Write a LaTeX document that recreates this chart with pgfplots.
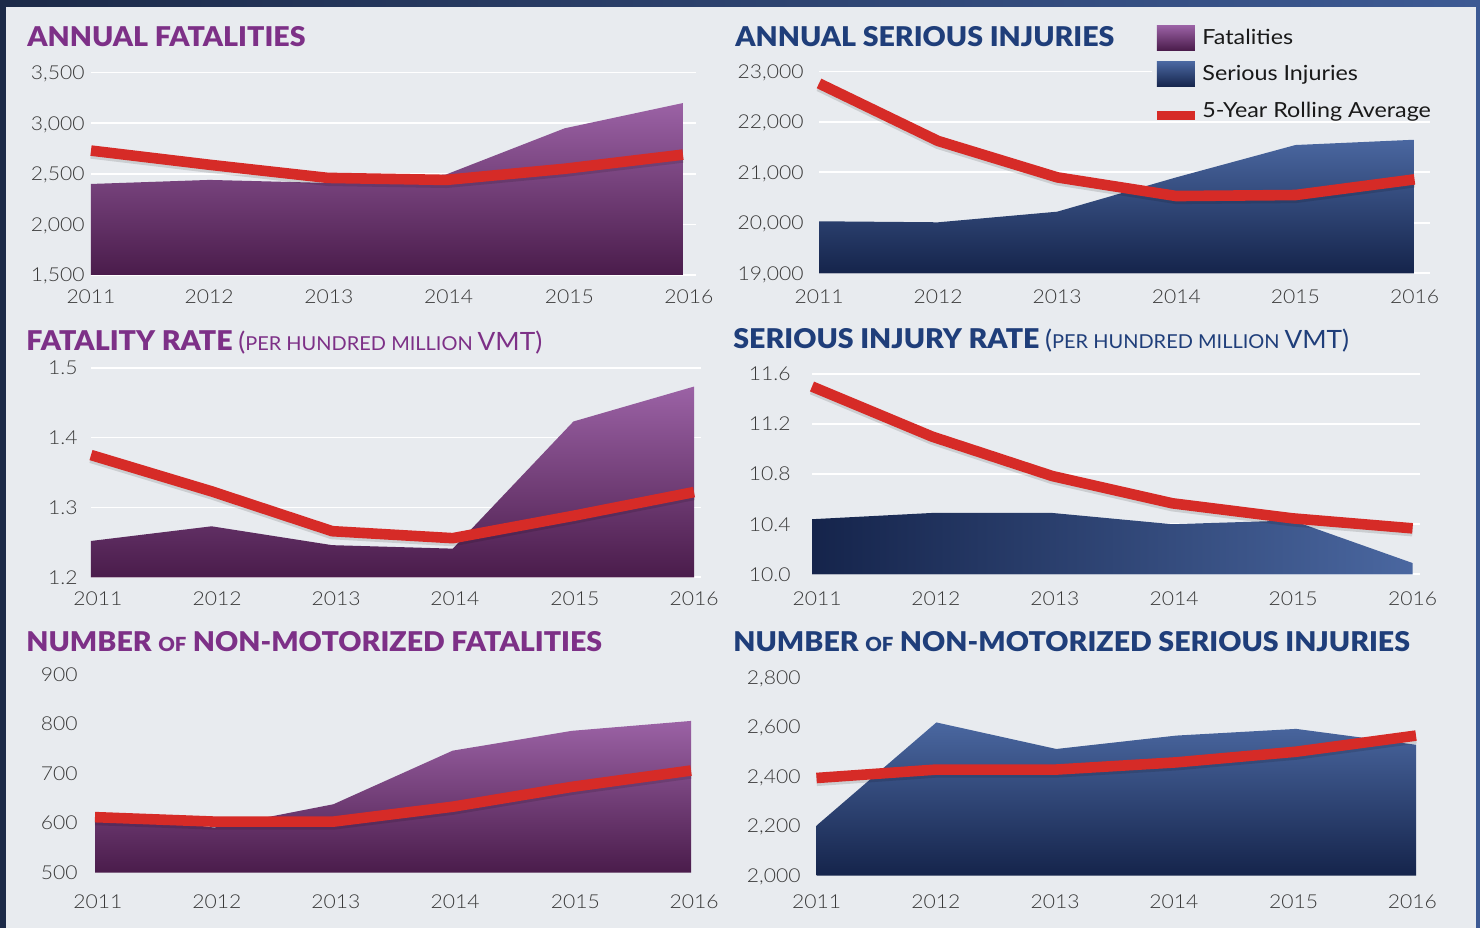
\documentclass[border=0pt]{standalone}
\usepackage{pgfplots}
\pgfplotsset{compat=1.18}
\usepackage{fontspec}
\setmainfont{Lato}[FakeStretch=1.12]
\newfontfamily\lightfont{Lato Light}[FakeStretch=1.1]
\newfontfamily\blackfont{Lato Black}[FakeStretch=1.05]
\newfontfamily\subfont{Lato}[FakeStretch=1.04]
\definecolor{bg}{HTML}{E8EBEF}
\definecolor{navy}{HTML}{1C2A48}
\definecolor{frameblue}{HTML}{3D5A94}
\definecolor{ptitle}{HTML}{7D3087}
\definecolor{btitle}{HTML}{1F3E7A}
\definecolor{redline}{HTML}{D62B27}
\definecolor{ptop}{HTML}{9B62A5}
\definecolor{pmid}{HTML}{7A3E83}
\definecolor{pbot}{HTML}{4A1C4B}
\definecolor{btop}{HTML}{4A67A0}
\definecolor{bmid}{HTML}{2C4A80}
\definecolor{bbot}{HTML}{15244B}
\definecolor{ticktext}{HTML}{3A3A3A}

\pgfplotsset{
  panel/.style={
    scale only axis, clip=false,
    scaled y ticks=false, scaled x ticks=false,
    axis line style={draw=none},
    tick style={draw=none},
    major tick length=0pt,
    grid style={white, line width=0.8pt},
    ticklabel style={font=\lightfont\fontsize{9.6}{10}\selectfont, text=ticktext, inner sep=0pt},
    xticklabels={2011,2012,2013,2014,2015,2016},
    yticklabel style={anchor=base east, yshift=-3.4pt},
    xticklabel style={anchor=base},
  },
  purplearea/.style={draw=none, top color=ptop, middle color=pmid, bottom color=pbot},
  bluearea/.style={draw=none, top color=btop, middle color=bmid, bottom color=bbot},
  shadowline/.style={black, opacity=0.12, line width=5.5pt, yshift=-1.3pt, line join=round, forget plot},
  redavg/.style={redline, line width=5.3pt, line join=round},
}
\newcommand\ttl[1]{{\blackfont\fontsize{13.6}{14}\selectfont #1}}
\newcommand\sub[1]{{\subfont\fontsize{9.6}{10}\selectfont #1}}
\newcommand\bigsub[1]{{\subfont\fontsize{12.6}{13}\selectfont #1}}

\begin{document}
\begin{tikzpicture}
% frame and background
\fill[navy] (0,0) rectangle (740pt,464pt);
\shade[left color=navy, right color=frameblue] (0,460.5pt) rectangle (740pt,464pt);
\fill[frameblue] (738pt,0) rectangle (740pt,460.5pt);
\fill[bg] (3pt,0) rectangle (738pt,460.5pt);

% titles
\node[anchor=base west, inner sep=0pt, text=ptitle] at (13.5pt,440.5pt) {\ttl{ANNUAL FATALITIES}};
\node[anchor=base west, inner sep=0pt, text=btitle] at (367.5pt,440.5pt) {\ttl{ANNUAL SERIOUS INJURIES}};
\node[anchor=base west, inner sep=0pt, text=ptitle] at (13pt,288.5pt) {\ttl{FATALITY RATE} \bigsub{(}\sub{PER HUNDRED MILLION }\bigsub{VMT)}};
\node[anchor=base west, inner sep=0pt, text=btitle] at (366.5pt,289.5pt) {\ttl{SERIOUS INJURY RATE} \bigsub{(}\sub{PER HUNDRED MILLION }\bigsub{VMT)}};
\node[anchor=base west, inner sep=0pt, text=ptitle] at (13pt,138pt) {\ttl{NUMBER {\fontsize{9.7}{10}\selectfont OF} NON-MOTORIZED FATALITIES}};
\node[anchor=base west, inner sep=0pt, text=btitle] at (366.5pt,138pt) {\ttl{NUMBER {\fontsize{9.7}{10}\selectfont OF} NON-MOTORIZED SERIOUS INJURIES}};

% Panel 1: Annual fatalities
\begin{axis}[panel, at={(45.5pt,326.5pt)}, anchor=south west,
  width=302.5pt, height=101.15pt,
  xmin=2011, xmax=2016.11, ymin=1500, ymax=3500,
  ytick={1500,2000,2500,3000,3500},
  yticklabels={{1,500},{2,000},{2,500},{3,000},{3,500}},
  ymajorgrids,
  xtick={2011,2011.997,2013.01,2014.02,2015.04,2016.05},
  yticklabel style={xshift=-3pt},
  xticklabel style={yshift=-14.5pt}]
\addplot[purplearea] coordinates {(2011,1500) (2011,2400) (2012,2440) (2013,2410) (2014,2494) (2015,2950) (2016,3200) (2016,1500)} -- cycle;
\addplot[shadowline] coordinates {(2011,2730) (2012,2590) (2013,2460) (2014,2440) (2015,2550) (2016,2690)};
\addplot[redavg] coordinates {(2011,2730) (2012,2590) (2013,2460) (2014,2440) (2015,2550) (2016,2690)};
\end{axis}

% Panel 2: Annual serious injuries
\begin{axis}[panel, at={(409.5pt,327.35pt)}, anchor=south west,
  width=305.5pt, height=101pt,
  xmin=2011, xmax=2016.13, ymin=19000, ymax=23000,
  ytick={19000,20000,21000,22000,23000},
  yticklabels={{19,000},{20,000},{21,000},{22,000},{23,000}},
  ymajorgrids,
  xtick={2011,2012,2013,2014,2015,2016},
  yticklabel style={xshift=-7.5pt},
  xticklabel style={yshift=-15.3pt},
  legend style={at={(0.545,1.229)}, anchor=north west, draw=none, fill=bg,
    font=\fontsize{10.4}{11}\selectfont, text=black!90, row sep=5.75pt, column sep=1.5pt,
    inner sep=0pt, nodes={inner sep=0pt, anchor=west}},
  legend cell align=left]
\addlegendimage{legend image code/.code={\shade[draw=none, top color=ptop, bottom color=pbot] (0pt,-6.25pt) rectangle (19pt,6.25pt);}}
\addlegendentry{Fatalities}
\addplot[bluearea, legend image code/.code={\shade[draw=none, top color=btop, bottom color=bbot] (0pt,-6.25pt) rectangle (19pt,6.25pt);}] coordinates {(2011,19000) (2011,20030) (2012,20010) (2013,20220) (2014,20900) (2015,21540) (2016,21645) (2016,19000)} -- cycle;
\addlegendentry{Serious Injuries}
\addplot[shadowline] coordinates {(2011,22760) (2012,21620) (2013,20900) (2014,20530) (2015,20550) (2016,20860)};
\addplot[redavg, legend image code/.code={\path[draw=none, fill=none] (0pt,-4.75pt) rectangle (19pt,6.25pt); \draw[redline, line width=4.5pt, line cap=butt] (0pt,-2.5pt) -- (19pt,-2.5pt);}] coordinates {(2011,22760) (2012,21620) (2013,20900) (2014,20530) (2015,20550) (2016,20860)};
\addlegendentry{5-Year Rolling Average}
\end{axis}

% Panel 3: Fatality rate
\begin{axis}[panel, at={(45.5pt,175.35pt)}, anchor=south west,
  width=305pt, height=104.8pt,
  xmin=2011, xmax=2016.058, ymin=1.2, ymax=1.5,
  ytick={1.2,1.3,1.4,1.5},
  yticklabels={1.2,1.3,1.4,1.5},
  ymajorgrids,
  xtick={2011.058,2012.045,2013.032,2014.018,2015.013,2016.0},
  yticklabel style={xshift=-6.5pt},
  xticklabel style={yshift=-14.3pt}]
\addplot[purplearea] coordinates {(2011,1.2) (2011,1.252) (2012,1.273) (2013,1.246) (2014,1.241) (2015,1.423) (2016,1.473) (2016,1.2)} -- cycle;
\addplot[shadowline] coordinates {(2011,1.375) (2012,1.323) (2013,1.266) (2014,1.256) (2015,1.288) (2016,1.322)};
\addplot[redavg] coordinates {(2011,1.375) (2012,1.323) (2013,1.266) (2014,1.256) (2015,1.288) (2016,1.322)};
\end{axis}

% Panel 4: Serious injury rate
\begin{axis}[panel, at={(406pt,176.85pt)}, anchor=south west,
  width=304pt, height=100.15pt,
  xmin=2011, xmax=2016.062, ymin=10.0, ymax=11.6,
  ytick={10.0,10.4,10.8,11.2,11.6},
  yticklabels={10.0,10.4,10.8,11.2,11.6},
  ymajorgrids,
  xtick={2011.042,2012.032,2013.023,2014.014,2015.005,2016.0},
  yticklabel style={xshift=-10.5pt},
  xticklabel style={yshift=-15.8pt}]
\addplot[draw=none, left color=bbot, middle color=bmid, right color=btop] coordinates {(2011,10.0) (2011,10.44) (2012,10.49) (2013,10.49) (2014,10.40) (2015,10.43) (2016,10.09) (2016,10.0)} -- cycle;
\addplot[shadowline] coordinates {(2011,11.50) (2012,11.10) (2013,10.785) (2014,10.567) (2015,10.447) (2016,10.367)};
\addplot[redavg] coordinates {(2011,11.50) (2012,11.10) (2013,10.785) (2014,10.567) (2015,10.447) (2016,10.367)};
\end{axis}

% Panel 5: Non-motorized fatalities
\begin{axis}[panel, at={(47.5pt,27.65pt)}, anchor=south west,
  width=301pt, height=99.2pt,
  xmin=2011, xmax=2016.05, ymin=500, ymax=900,
  ytick={500,600,700,800,900},
  yticklabels={500,600,700,800,900},
  xtick={2011.025,2012.023,2013.02,2014.02,2015.03,2016.025},
  yticklabel style={xshift=-8.5pt},
  xticklabel style={yshift=-17.8pt}]
\addplot[purplearea] coordinates {(2011,500) (2011,621) (2012,591) (2013,638) (2014,746) (2015,786) (2016,806) (2016,500)} -- cycle;
\addplot[shadowline] coordinates {(2011,612) (2012,603) (2013,603) (2014,633) (2015,673) (2016,706)};
\addplot[redavg] coordinates {(2011,612) (2012,603) (2013,603) (2014,633) (2015,673) (2016,706)};
\end{axis}

% Panel 6: Non-motorized serious injuries
\begin{axis}[panel, at={(408.25pt,26.15pt)}, anchor=south west,
  width=302.75pt, height=99.2pt,
  xmin=2011, xmax=2016.05, ymin=2000, ymax=2800,
  ytick={2000,2200,2400,2600,2800},
  yticklabels={{2,000},{2,200},{2,400},{2,600},{2,800}},
  xtick={2011,2011.995,2012.99,2013.98,2014.98,2015.97},
  yticklabel style={xshift=-7.75pt},
  xticklabel style={yshift=-16.3pt}]
\addplot[bluearea] coordinates {(2011,2000) (2011,2202) (2012,2618) (2013,2511) (2014,2565) (2015,2592) (2016,2528) (2016,2000)} -- cycle;
\addplot[shadowline] coordinates {(2011,2394) (2012,2428) (2013,2428) (2014,2457) (2015,2500) (2016,2565)};
\addplot[redavg] coordinates {(2011,2394) (2012,2428) (2013,2428) (2014,2457) (2015,2500) (2016,2565)};
\end{axis}
\end{tikzpicture}
\end{document}
